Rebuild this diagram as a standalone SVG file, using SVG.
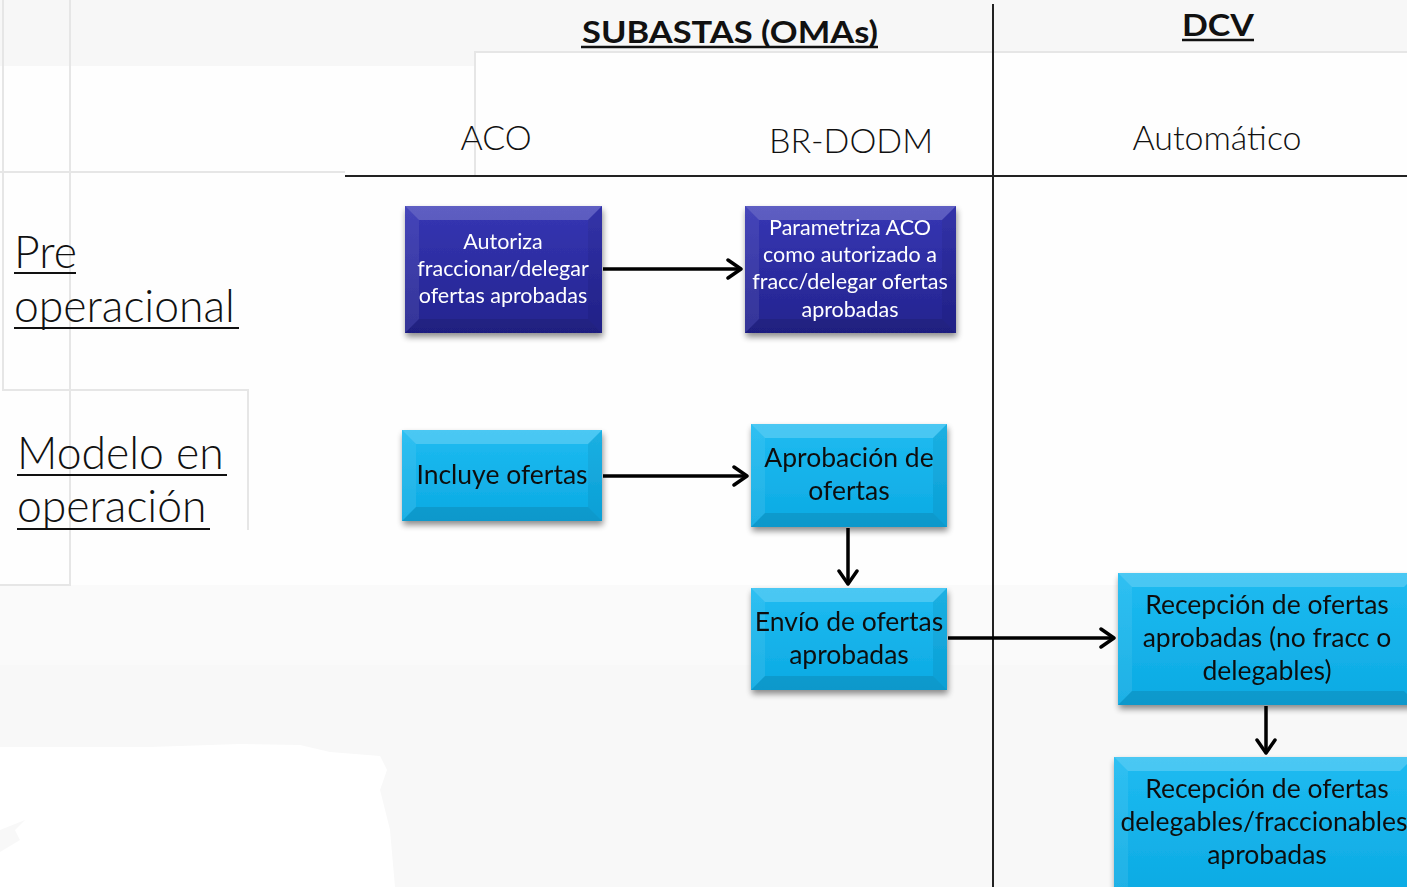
<svg xmlns="http://www.w3.org/2000/svg" width="1407" height="887" viewBox="0 0 1407 887">
<defs>
<filter id="sh" x="-10%" y="-10%" width="130%" height="130%">
<feGaussianBlur in="SourceAlpha" stdDeviation="3"/>
<feOffset dx="1" dy="4"/>
<feComponentTransfer><feFuncA type="linear" slope="0.45"/></feComponentTransfer>
<feMerge><feMergeNode/><feMergeNode in="SourceGraphic"/></feMerge>
</filter>
<linearGradient id="gdark" x1="0" y1="0" x2="0" y2="1">
<stop offset="0" stop-color="#3636b4"/><stop offset="1" stop-color="#23238e"/>
</linearGradient>
<linearGradient id="gcyan" x1="0" y1="0" x2="0" y2="1">
<stop offset="0" stop-color="#1ebbf1"/><stop offset="1" stop-color="#0caae3"/>
</linearGradient>
<marker id="arr" viewBox="0 0 18 22" refX="15" refY="11" markerWidth="18" markerHeight="22" markerUnits="userSpaceOnUse" orient="auto">
<path d="M2,2 L15,11 L2,20" fill="none" stroke="#000" stroke-width="3.5" stroke-linecap="round" stroke-linejoin="round"/>
</marker>
</defs>
<style>
.bgline{stroke:#e6e6e6;stroke-width:2;fill:none}
.hdr{font-family:Lato,"Open Sans",sans-serif;fill:#111}
.col{font-size:34px;font-weight:300;text-anchor:middle}
.lane{font-size:44.5px;font-weight:300}
.dark .face{fill:url(#gdark)}
.cyan .face{fill:url(#gcyan)}
.bt{fill:#fff;opacity:0.2}
.bl{fill:#fff;opacity:0.08}
.br{fill:#000;opacity:0.06}
.bb{fill:#000;opacity:0.1}
.dark text{font-family:Lato,"Open Sans",sans-serif;font-size:21.5px;fill:#fff;text-anchor:middle}
.cyan text{font-family:Lato,"Open Sans",sans-serif;font-size:26.5px;fill:#111;text-anchor:middle}
.conn{stroke:#000;stroke-width:3.5;fill:none;marker-end:url(#arr)}
</style>

<g id="background">
<rect x="0" y="0" width="1407" height="887" fill="#fefefe"/>
<rect x="0" y="0" width="1407" height="52" fill="#f7f7f7"/>
<rect x="0" y="52" width="475" height="14" fill="#f7f7f7"/>
<rect x="0" y="585" width="1407" height="302" fill="#fafafa"/>
<rect x="0" y="665" width="1407" height="222" fill="#f8f8f8"/>
<path d="M0,747 L150,747 L240,744 L300,745 L330,752 L380,756 L387,770 L380,790 L390,830 L395,887 L0,887 L0,852 L20,840 L15,830 L25,820 L0,830 Z" fill="#ffffff"/>
<path class="bgline" d="M475,175 L475,52 L1407,52"/>
<path class="bgline" d="M0,172 L345,172"/>
<path class="bgline" d="M70,0 L70,585 L0,585"/>
<path class="bgline" d="M3,0 L3,390 L248,390 L248,530"/>
</g>

<g id="headers">
<text class="hdr" x="730" y="43" font-size="31" font-weight="bold" text-anchor="middle" textLength="296" lengthAdjust="spacingAndGlyphs">SUBASTAS (OMAs)</text>
<line x1="581" y1="47" x2="878" y2="47" stroke="#111" stroke-width="2.5"/>
<text class="hdr" x="1218" y="36" font-size="31" font-weight="bold" text-anchor="middle" textLength="72" lengthAdjust="spacingAndGlyphs">DCV</text>
<line x1="1182" y1="40" x2="1254" y2="40" stroke="#111" stroke-width="2.5"/>
<text class="hdr col" x="496" y="150">ACO</text>
<text class="hdr col" x="851" y="153">BR-DODM</text>
<text class="hdr col" x="1217" y="150">Automático</text>
<line x1="345" y1="176" x2="1407" y2="176" stroke="#222" stroke-width="2"/>
<line x1="993" y1="4" x2="993" y2="887" stroke="#222" stroke-width="2"/>
</g>

<g id="lane-pre">
<text class="hdr lane" x="14" y="268">Pre</text>
<line x1="14" y1="273" x2="76" y2="273" stroke="#111" stroke-width="2"/>
<text class="hdr lane" x="14" y="322">operacional</text>
<line x1="14" y1="328" x2="239" y2="328" stroke="#111" stroke-width="2"/>
</g>
<g id="lane-modelo">
<text class="hdr lane" x="17" y="469">Modelo en</text>
<line x1="17" y1="475" x2="227" y2="475" stroke="#111" stroke-width="2"/>
<text class="hdr lane" x="17" y="522">operación</text>
<line x1="17" y1="529" x2="210" y2="529" stroke="#111" stroke-width="2"/>
</g>

<g id="n1" class="dark" filter="url(#sh)">
<rect class="face" x="405" y="206" width="197" height="127"/>
<polygon class="bt" points="405,206 602,206 588,220 419,220"/>
<polygon class="bl" points="405,206 419,220 419,319 405,333"/>
<polygon class="br" points="602,206 602,333 588,319 588,220"/>
<polygon class="bb" points="405,333 602,333 588,319 419,319"/>
<text x="503" y="249">Autoriza</text>
<text x="503" y="276">fraccionar/delegar</text>
<text x="503" y="303">ofertas aprobadas</text>
</g>

<g id="n2" class="dark" filter="url(#sh)">
<rect class="face" x="745" y="206" width="211" height="127"/>
<polygon class="bt" points="745,206 956,206 942,220 759,220"/>
<polygon class="bl" points="745,206 759,220 759,319 745,333"/>
<polygon class="br" points="956,206 956,333 942,319 942,220"/>
<polygon class="bb" points="745,333 956,333 942,319 759,319"/>
<text x="850" y="235">Parametriza ACO</text>
<text x="850" y="262">como autorizado a</text>
<text x="850" y="289">fracc/delegar ofertas</text>
<text x="850" y="317">aprobadas</text>
</g>

<g id="n3" class="cyan" filter="url(#sh)">
<rect class="face" x="402" y="430" width="200" height="91"/>
<polygon class="bt" points="402,430 602,430 588,444 416,444"/>
<polygon class="bl" points="402,430 416,444 416,507 402,521"/>
<polygon class="br" points="602,430 602,521 588,507 588,444"/>
<polygon class="bb" points="402,521 602,521 588,507 416,507"/>
<text x="502" y="484">Incluye ofertas</text>
</g>

<g id="n4" class="cyan" filter="url(#sh)">
<rect class="face" x="751" y="424" width="196" height="103"/>
<polygon class="bt" points="751,424 947,424 933,438 765,438"/>
<polygon class="bl" points="751,424 765,438 765,513 751,527"/>
<polygon class="br" points="947,424 947,527 933,513 933,438"/>
<polygon class="bb" points="751,527 947,527 933,513 765,513"/>
<text x="849" y="467">Aprobación de</text>
<text x="849" y="500">ofertas</text>
</g>

<g id="n5" class="cyan" filter="url(#sh)">
<rect class="face" x="751" y="588" width="196" height="102"/>
<polygon class="bt" points="751,588 947,588 933,602 765,602"/>
<polygon class="bl" points="751,588 765,602 765,676 751,690"/>
<polygon class="br" points="947,588 947,690 933,676 933,602"/>
<polygon class="bb" points="751,690 947,690 933,676 765,676"/>
<text x="849" y="631">Envío de ofertas</text>
<text x="849" y="664">aprobadas</text>
</g>

<g id="n6" class="cyan" filter="url(#sh)">
<rect class="face" x="1118" y="573" width="300" height="132"/>
<polygon class="bt" points="1118,573 1418,573 1404,587 1132,587"/>
<polygon class="bl" points="1118,573 1132,587 1132,691 1118,705"/>
<polygon class="bb" points="1118,705 1418,705 1404,691 1132,691"/>
<text x="1267" y="614" font-size="27">Recepción de ofertas</text>
<text x="1267" y="647" font-size="27">aprobadas (no fracc o</text>
<text x="1267" y="680" font-size="27">delegables)</text>
</g>

<g id="n7" class="cyan" filter="url(#sh)">
<rect class="face" x="1114" y="757" width="300" height="140"/>
<polygon class="bt" points="1114,757 1414,757 1400,771 1128,771"/>
<polygon class="bl" points="1114,757 1128,771 1128,897 1114,897"/>
<text x="1267" y="798" font-size="27">Recepción de ofertas</text>
<text x="1264" y="831" font-size="25.5">delegables/fraccionables</text>
<text x="1267" y="864" font-size="27">aprobadas</text>
</g>

<g id="connectors">
<line class="conn" x1="603" y1="269" x2="741" y2="269"/>
<line class="conn" x1="603" y1="476" x2="747" y2="476"/>
<line class="conn" x1="848" y1="528" x2="848" y2="584"/>
<line class="conn" x1="948" y1="638" x2="1114" y2="638"/>
<line class="conn" x1="1266" y1="706" x2="1266" y2="753"/>
</g>
</svg>
